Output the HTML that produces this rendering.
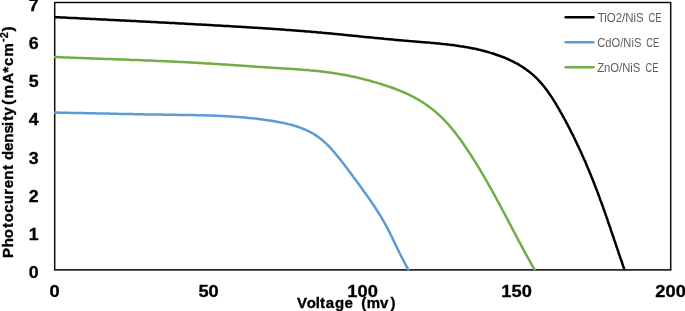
<!DOCTYPE html>
<html><head><meta charset="utf-8"><title>Chart</title>
<style>html,body{margin:0;padding:0;background:#fff;overflow:hidden}svg{display:block}</style>
</head><body>
<svg width="685" height="311" viewBox="0 0 685 311">
<rect x="0" y="0" width="685" height="311" fill="#ffffff"/>
<path d="M54.7,269.9 L54.7,2.4 L670.7,2.4 L670.7,269.9" fill="none" stroke="#0d0d0d" stroke-width="1.5" stroke-linejoin="round"/>
<path d="M53.95,269.9 L671.45,269.9" fill="none" stroke="#262626" stroke-width="1.8"/>
<defs><clipPath id="plotclip"><rect x="54.0" y="2.4" width="616.7" height="268.1"/></clipPath></defs>
<g clip-path="url(#plotclip)">
<path d="M54.7,112.6 L56.2,112.6 L57.7,112.6 L59.2,112.7 L60.7,112.7 L62.2,112.7 L63.7,112.7 L65.2,112.8 L66.7,112.8 L68.2,112.8 L69.7,112.8 L71.2,112.9 L72.7,112.9 L74.2,112.9 L75.7,112.9 L77.2,113.0 L78.7,113.0 L80.2,113.0 L81.7,113.1 L83.2,113.1 L84.7,113.1 L86.2,113.2 L87.7,113.2 L89.2,113.2 L90.7,113.2 L92.2,113.3 L93.7,113.3 L95.2,113.3 L96.7,113.4 L98.2,113.4 L99.7,113.4 L101.2,113.5 L102.7,113.5 L104.2,113.5 L105.7,113.6 L107.2,113.6 L108.7,113.6 L110.2,113.7 L111.7,113.7 L113.2,113.7 L114.7,113.8 L116.2,113.8 L117.7,113.8 L119.2,113.9 L120.7,113.9 L122.2,113.9 L123.7,114.0 L125.2,114.0 L126.7,114.0 L128.2,114.0 L129.7,114.1 L131.2,114.1 L132.7,114.1 L134.2,114.2 L135.7,114.2 L137.2,114.2 L138.7,114.3 L140.2,114.3 L141.7,114.3 L143.2,114.3 L144.7,114.4 L146.1,114.4 L147.6,114.4 L149.1,114.5 L150.6,114.5 L152.1,114.5 L153.6,114.5 L155.1,114.6 L156.6,114.6 L158.1,114.6 L159.6,114.6 L161.1,114.6 L162.6,114.7 L164.1,114.7 L165.6,114.7 L167.1,114.7 L168.6,114.8 L170.1,114.8 L171.6,114.8 L173.1,114.8 L174.7,114.8 L176.2,114.8 L177.7,114.9 L179.2,114.9 L180.7,114.9 L182.2,114.9 L183.7,114.9 L185.2,115.0 L186.7,115.0 L188.2,115.0 L189.7,115.0 L191.2,115.1 L192.7,115.1 L194.2,115.1 L195.7,115.2 L197.2,115.2 L198.7,115.2 L200.2,115.3 L201.7,115.3 L203.2,115.3 L204.7,115.4 L206.2,115.4 L207.7,115.5 L209.2,115.5 L210.7,115.6 L212.2,115.6 L213.7,115.7 L215.2,115.7 L216.7,115.8 L218.2,115.8 L219.7,115.9 L221.2,116.0 L222.7,116.0 L224.2,116.1 L225.7,116.2 L227.2,116.3 L228.7,116.4 L230.2,116.5 L231.7,116.6 L233.2,116.7 L234.7,116.8 L236.2,116.9 L237.7,117.0 L239.2,117.1 L240.7,117.2 L242.2,117.3 L243.7,117.5 L245.2,117.6 L246.6,117.7 L248.1,117.9 L249.6,118.0 L251.1,118.2 L252.6,118.3 L254.1,118.5 L255.6,118.6 L257.1,118.8 L258.6,119.0 L260.1,119.2 L261.6,119.4 L263.1,119.6 L264.6,119.8 L266.0,120.0 L267.5,120.2 L269.0,120.4 L270.5,120.6 L272.0,120.9 L273.5,121.1 L275.0,121.4 L276.4,121.6 L277.9,121.9 L279.4,122.2 L280.9,122.4 L282.3,122.7 L283.8,123.0 L285.3,123.4 L286.7,123.7 L288.2,124.1 L289.6,124.4 L291.1,124.8 L292.5,125.2 L293.9,125.6 L295.3,126.0 L296.8,126.5 L298.2,127.0 L299.5,127.4 L300.9,127.9 L302.3,128.5 L303.7,129.0 L305.0,129.6 L306.4,130.2 L307.7,130.8 L309.0,131.5 L310.3,132.1 L311.6,132.8 L312.9,133.5 L314.1,134.3 L315.4,135.1 L316.6,135.9 L317.8,136.7 L319.0,137.6 L320.2,138.5 L321.4,139.4 L322.6,140.3 L323.7,141.3 L324.8,142.3 L325.9,143.4 L327.0,144.4 L328.1,145.5 L329.2,146.6 L330.2,147.7 L331.3,148.8 L332.3,150.0 L333.3,151.1 L334.3,152.3 L335.3,153.5 L336.3,154.7 L337.3,155.9 L338.2,157.1 L339.2,158.2 L340.2,159.4 L341.1,160.6 L342.0,161.8 L343.0,163.0 L343.9,164.2 L344.8,165.4 L345.7,166.6 L346.6,167.8 L347.5,169.0 L348.4,170.2 L349.3,171.4 L350.2,172.6 L351.1,173.8 L352.0,175.0 L352.9,176.2 L353.7,177.4 L354.6,178.6 L355.5,179.8 L356.4,181.0 L357.3,182.2 L358.2,183.4 L359.0,184.6 L359.9,185.8 L360.8,187.0 L361.7,188.2 L362.5,189.4 L363.4,190.7 L364.3,191.9 L365.2,193.1 L366.0,194.3 L366.9,195.5 L367.8,196.7 L368.6,197.9 L369.5,199.1 L370.3,200.4 L371.2,201.6 L372.0,202.8 L372.8,204.1 L373.7,205.3 L374.5,206.5 L375.3,207.8 L376.1,209.0 L376.9,210.3 L377.7,211.5 L378.5,212.8 L379.3,214.1 L380.1,215.3 L380.9,216.6 L381.7,217.9 L382.4,219.2 L383.2,220.5 L383.9,221.8 L384.7,223.1 L385.4,224.4 L386.1,225.7 L386.8,227.1 L387.5,228.4 L388.2,229.7 L388.9,231.1 L389.6,232.4 L390.3,233.8 L390.9,235.1 L391.6,236.5 L392.3,237.8 L392.9,239.2 L393.6,240.6 L394.3,241.9 L394.9,243.3 L395.6,244.7 L396.2,246.0 L396.9,247.4 L397.5,248.7 L398.2,250.1 L398.9,251.5 L399.5,252.8 L400.2,254.2 L400.8,255.5 L401.5,256.9 L402.2,258.2 L402.9,259.5 L403.6,260.9 L404.3,262.2 L405.0,263.5 L405.7,264.8 L406.4,266.1 L407.1,267.4 L407.8,268.7 L408.5,269.8" fill="none" stroke="#5b9bd5" stroke-width="2.5" stroke-linejoin="round" stroke-linecap="round"/>
<path d="M54.7,57.0 L56.2,57.1 L57.7,57.1 L59.2,57.2 L60.7,57.2 L62.2,57.3 L63.7,57.4 L65.2,57.4 L66.7,57.5 L68.2,57.5 L69.7,57.6 L71.2,57.7 L72.7,57.7 L74.2,57.8 L75.7,57.8 L77.2,57.9 L78.7,57.9 L80.2,58.0 L81.7,58.1 L83.2,58.1 L84.7,58.2 L86.2,58.2 L87.6,58.3 L89.1,58.3 L90.6,58.4 L92.1,58.4 L93.6,58.5 L95.1,58.6 L96.6,58.6 L98.1,58.7 L99.6,58.7 L101.1,58.8 L102.6,58.8 L104.1,58.9 L105.6,58.9 L107.1,59.0 L108.6,59.0 L110.1,59.1 L111.6,59.1 L113.1,59.2 L114.6,59.3 L116.1,59.3 L117.6,59.4 L119.1,59.4 L120.6,59.5 L122.1,59.5 L123.6,59.6 L125.1,59.6 L126.6,59.7 L128.1,59.7 L129.6,59.8 L131.1,59.9 L132.6,59.9 L134.1,60.0 L135.6,60.0 L137.1,60.1 L138.6,60.1 L140.1,60.2 L141.6,60.3 L143.1,60.3 L144.6,60.4 L146.1,60.4 L147.6,60.5 L149.1,60.6 L150.6,60.6 L152.1,60.7 L153.6,60.7 L155.1,60.8 L156.6,60.9 L158.1,60.9 L159.6,61.0 L161.1,61.1 L162.6,61.1 L164.1,61.2 L165.6,61.3 L167.1,61.3 L168.6,61.4 L170.1,61.5 L171.6,61.5 L173.1,61.6 L174.6,61.7 L176.1,61.7 L177.6,61.8 L179.1,61.9 L180.6,62.0 L182.1,62.0 L183.6,62.1 L185.1,62.2 L186.6,62.3 L188.1,62.3 L189.6,62.4 L191.1,62.5 L192.6,62.6 L194.1,62.7 L195.6,62.8 L197.1,62.8 L198.6,62.9 L200.1,63.0 L201.6,63.1 L203.1,63.2 L204.6,63.3 L206.1,63.4 L207.6,63.5 L209.1,63.5 L210.6,63.6 L212.1,63.7 L213.6,63.8 L215.1,63.9 L216.6,64.0 L218.1,64.1 L219.6,64.2 L221.1,64.3 L222.6,64.4 L224.1,64.5 L225.6,64.6 L227.1,64.7 L228.6,64.8 L230.1,64.9 L231.6,65.0 L233.1,65.1 L234.6,65.2 L236.0,65.3 L237.5,65.4 L239.0,65.5 L240.5,65.6 L242.0,65.7 L243.5,65.8 L245.0,65.9 L246.5,66.0 L248.0,66.1 L249.5,66.2 L251.0,66.3 L252.5,66.4 L254.0,66.5 L255.5,66.7 L257.0,66.8 L258.5,66.9 L260.0,67.0 L261.5,67.0 L263.0,67.1 L264.5,67.2 L266.0,67.3 L267.4,67.4 L268.9,67.5 L270.4,67.6 L271.9,67.7 L273.4,67.8 L274.9,67.9 L276.4,68.0 L277.9,68.1 L279.4,68.2 L280.9,68.3 L282.4,68.4 L283.9,68.5 L285.4,68.6 L286.9,68.7 L288.3,68.7 L289.8,68.8 L291.3,68.9 L292.8,69.0 L294.3,69.1 L295.8,69.2 L297.3,69.3 L298.8,69.4 L300.3,69.6 L301.8,69.7 L303.3,69.8 L304.7,69.9 L306.2,70.0 L307.7,70.1 L309.2,70.3 L310.7,70.4 L312.2,70.5 L313.7,70.7 L315.2,70.8 L316.7,71.0 L318.1,71.1 L319.6,71.3 L321.1,71.5 L322.6,71.6 L324.1,71.8 L325.6,72.0 L327.1,72.2 L328.6,72.4 L330.0,72.6 L331.5,72.8 L333.0,73.0 L334.5,73.2 L336.0,73.4 L337.5,73.7 L339.0,73.9 L340.4,74.2 L341.9,74.4 L343.4,74.7 L344.9,75.0 L346.4,75.2 L347.9,75.5 L349.3,75.8 L350.8,76.2 L352.3,76.5 L353.8,76.8 L355.3,77.1 L356.8,77.5 L358.2,77.8 L359.7,78.2 L361.2,78.5 L362.7,78.9 L364.1,79.3 L365.6,79.7 L367.1,80.0 L368.5,80.4 L370.0,80.8 L371.4,81.2 L372.9,81.7 L374.3,82.1 L375.8,82.5 L377.2,82.9 L378.7,83.4 L380.1,83.8 L381.6,84.2 L383.0,84.7 L384.4,85.1 L385.8,85.6 L387.3,86.1 L388.7,86.6 L390.1,87.0 L391.5,87.5 L392.9,88.0 L394.3,88.5 L395.7,89.0 L397.1,89.6 L398.5,90.1 L399.8,90.7 L401.2,91.2 L402.6,91.8 L403.9,92.4 L405.3,93.0 L406.6,93.6 L408.0,94.2 L409.3,94.9 L410.6,95.5 L412.0,96.2 L413.3,96.9 L414.6,97.6 L415.9,98.3 L417.2,99.0 L418.5,99.8 L419.7,100.5 L421.0,101.3 L422.3,102.1 L423.5,102.9 L424.8,103.7 L426.0,104.6 L427.2,105.4 L428.4,106.3 L429.6,107.2 L430.8,108.1 L432.0,109.0 L433.2,109.9 L434.4,110.9 L435.5,111.9 L436.6,112.8 L437.8,113.8 L438.9,114.8 L440.0,115.8 L441.1,116.9 L442.2,117.9 L443.2,119.0 L444.3,120.0 L445.3,121.1 L446.3,122.2 L447.4,123.3 L448.4,124.4 L449.3,125.6 L450.3,126.7 L451.3,127.9 L452.3,129.0 L453.2,130.2 L454.2,131.4 L455.1,132.6 L456.0,133.7 L456.9,135.0 L457.8,136.2 L458.7,137.4 L459.6,138.6 L460.5,139.8 L461.4,141.0 L462.3,142.3 L463.1,143.5 L464.0,144.8 L464.8,146.0 L465.7,147.2 L466.5,148.5 L467.4,149.7 L468.2,151.0 L469.0,152.2 L469.8,153.5 L470.7,154.8 L471.5,156.0 L472.3,157.3 L473.1,158.6 L473.9,159.8 L474.7,161.1 L475.5,162.4 L476.3,163.6 L477.1,164.9 L477.9,166.2 L478.6,167.5 L479.4,168.8 L480.2,170.0 L480.9,171.3 L481.7,172.6 L482.5,173.9 L483.2,175.2 L484.0,176.5 L484.7,177.8 L485.5,179.1 L486.2,180.4 L487.0,181.7 L487.7,183.0 L488.5,184.3 L489.2,185.6 L489.9,186.9 L490.7,188.2 L491.4,189.5 L492.1,190.8 L492.8,192.1 L493.6,193.4 L494.3,194.7 L495.0,196.0 L495.7,197.3 L496.4,198.7 L497.1,200.0 L497.8,201.3 L498.6,202.6 L499.3,203.9 L500.0,205.2 L500.7,206.6 L501.4,207.9 L502.1,209.2 L502.8,210.5 L503.5,211.9 L504.2,213.2 L504.9,214.5 L505.6,215.8 L506.3,217.2 L507.0,218.5 L507.7,219.8 L508.4,221.1 L509.1,222.5 L509.8,223.8 L510.5,225.1 L511.2,226.5 L511.9,227.8 L512.6,229.1 L513.3,230.4 L514.0,231.8 L514.7,233.1 L515.4,234.4 L516.1,235.7 L516.8,237.1 L517.5,238.4 L518.2,239.7 L518.9,241.1 L519.6,242.4 L520.3,243.7 L521.0,245.0 L521.7,246.4 L522.4,247.7 L523.1,249.0 L523.9,250.3 L524.6,251.6 L525.3,253.0 L526.0,254.3 L526.7,255.6 L527.4,256.9 L528.2,258.2 L528.9,259.5 L529.6,260.8 L530.4,262.2 L531.1,263.5 L531.8,264.8 L532.6,266.1 L533.3,267.4 L534.1,268.7 L534.7,269.8" fill="none" stroke="#70ad47" stroke-width="2.5" stroke-linejoin="round" stroke-linecap="round"/>
<path d="M54.7,17.1 L56.2,17.2 L57.7,17.3 L59.2,17.3 L60.7,17.4 L62.2,17.5 L63.7,17.6 L65.2,17.6 L66.7,17.7 L68.2,17.8 L69.7,17.9 L71.2,17.9 L72.7,18.0 L74.2,18.1 L75.7,18.1 L77.2,18.2 L78.7,18.3 L80.2,18.4 L81.7,18.4 L83.2,18.5 L84.7,18.6 L86.2,18.7 L87.7,18.7 L89.2,18.8 L90.7,18.9 L92.2,19.0 L93.7,19.0 L95.2,19.1 L96.7,19.2 L98.2,19.3 L99.7,19.3 L101.2,19.4 L102.7,19.5 L104.2,19.6 L105.7,19.6 L107.2,19.7 L108.7,19.8 L110.2,19.9 L111.7,19.9 L113.2,20.0 L114.7,20.1 L116.2,20.2 L117.7,20.2 L119.2,20.3 L120.7,20.4 L122.2,20.5 L123.7,20.5 L125.2,20.6 L126.7,20.7 L128.2,20.8 L129.7,20.8 L131.2,20.9 L132.7,21.0 L134.2,21.1 L135.7,21.1 L137.2,21.2 L138.7,21.3 L140.2,21.4 L141.7,21.4 L143.2,21.5 L144.7,21.6 L146.2,21.7 L147.7,21.7 L149.2,21.8 L150.7,21.9 L152.2,22.0 L153.7,22.1 L155.1,22.1 L156.6,22.2 L158.1,22.3 L159.6,22.4 L161.1,22.4 L162.6,22.5 L164.1,22.6 L165.6,22.7 L167.1,22.8 L168.6,22.8 L170.1,22.9 L171.6,23.0 L173.1,23.1 L174.6,23.1 L176.1,23.2 L177.6,23.3 L179.1,23.4 L180.6,23.5 L182.1,23.5 L183.6,23.6 L185.1,23.7 L186.6,23.8 L188.1,23.9 L189.6,23.9 L191.1,24.0 L192.5,24.1 L194.0,24.2 L195.5,24.3 L197.0,24.4 L198.5,24.4 L200.0,24.5 L201.5,24.6 L203.0,24.7 L204.5,24.8 L206.0,24.8 L207.5,24.9 L209.0,25.0 L210.5,25.1 L212.0,25.2 L213.5,25.3 L215.0,25.4 L216.5,25.4 L218.0,25.5 L219.5,25.6 L221.0,25.7 L222.4,25.8 L223.9,25.9 L225.4,26.0 L226.9,26.0 L228.4,26.1 L229.9,26.2 L231.4,26.3 L232.9,26.4 L234.4,26.5 L235.9,26.6 L237.4,26.7 L238.9,26.7 L240.4,26.8 L241.9,26.9 L243.4,27.0 L244.9,27.1 L246.4,27.2 L247.9,27.3 L249.4,27.4 L250.9,27.5 L252.3,27.6 L253.8,27.7 L255.3,27.7 L256.8,27.8 L258.3,27.9 L259.8,28.0 L261.3,28.1 L262.8,28.2 L264.3,28.3 L265.8,28.4 L267.3,28.5 L268.8,28.6 L270.3,28.7 L271.8,28.8 L273.3,28.9 L274.8,29.0 L276.3,29.1 L277.8,29.2 L279.3,29.3 L280.7,29.4 L282.2,29.5 L283.7,29.6 L285.2,29.8 L286.7,29.9 L288.2,30.0 L289.7,30.1 L291.2,30.2 L292.7,30.3 L294.2,30.4 L295.7,30.5 L297.2,30.7 L298.7,30.8 L300.2,30.9 L301.7,31.0 L303.2,31.1 L304.7,31.2 L306.2,31.4 L307.7,31.5 L309.2,31.6 L310.7,31.7 L312.1,31.9 L313.6,32.0 L315.1,32.1 L316.6,32.2 L318.1,32.4 L319.6,32.5 L321.1,32.6 L322.6,32.8 L324.1,32.9 L325.6,33.0 L327.1,33.2 L328.6,33.3 L330.1,33.5 L331.6,33.6 L333.1,33.7 L334.6,33.9 L336.1,34.0 L337.6,34.2 L339.1,34.3 L340.6,34.5 L342.1,34.6 L343.6,34.8 L345.1,34.9 L346.6,35.1 L348.1,35.2 L349.6,35.4 L351.1,35.5 L352.5,35.7 L354.0,35.8 L355.5,36.0 L357.0,36.1 L358.5,36.3 L360.0,36.4 L361.5,36.6 L363.0,36.7 L364.5,36.9 L366.0,37.0 L367.5,37.2 L369.0,37.3 L370.5,37.5 L372.0,37.6 L373.5,37.7 L375.0,37.9 L376.5,38.0 L378.0,38.2 L379.5,38.3 L381.0,38.5 L382.5,38.6 L384.0,38.8 L385.5,38.9 L387.0,39.1 L388.5,39.2 L390.0,39.3 L391.5,39.5 L393.0,39.6 L394.5,39.8 L396.0,39.9 L397.5,40.0 L399.0,40.2 L400.5,40.3 L402.0,40.4 L403.5,40.6 L405.0,40.7 L406.5,40.8 L408.0,40.9 L409.5,41.1 L411.0,41.2 L412.5,41.3 L414.0,41.4 L415.5,41.5 L417.0,41.7 L418.5,41.8 L420.0,41.9 L421.5,42.0 L423.0,42.2 L424.5,42.3 L426.0,42.4 L427.5,42.5 L429.0,42.6 L430.5,42.8 L432.0,42.9 L433.5,43.0 L435.0,43.2 L436.5,43.3 L437.9,43.5 L439.4,43.6 L440.9,43.8 L442.4,43.9 L443.9,44.1 L445.4,44.2 L446.9,44.4 L448.4,44.6 L449.8,44.7 L451.3,44.9 L452.8,45.1 L454.3,45.3 L455.8,45.5 L457.3,45.7 L458.7,45.9 L460.2,46.2 L461.7,46.4 L463.1,46.6 L464.6,46.9 L466.1,47.1 L467.5,47.4 L469.0,47.6 L470.5,47.9 L471.9,48.2 L473.4,48.5 L474.8,48.8 L476.3,49.1 L477.8,49.4 L479.2,49.8 L480.7,50.1 L482.1,50.5 L483.5,50.8 L485.0,51.2 L486.4,51.6 L487.9,52.0 L489.3,52.4 L490.7,52.9 L492.1,53.3 L493.6,53.7 L495.0,54.2 L496.4,54.7 L497.8,55.2 L499.2,55.7 L500.7,56.2 L502.1,56.7 L503.5,57.3 L504.9,57.8 L506.2,58.4 L507.6,59.0 L509.0,59.6 L510.4,60.3 L511.7,60.9 L513.1,61.6 L514.4,62.3 L515.7,63.0 L517.1,63.7 L518.4,64.4 L519.7,65.2 L520.9,66.0 L522.2,66.8 L523.5,67.6 L524.7,68.4 L525.9,69.3 L527.1,70.2 L528.3,71.1 L529.5,72.0 L530.7,72.9 L531.8,73.9 L533.0,74.9 L534.1,75.8 L535.2,76.9 L536.2,77.9 L537.3,78.9 L538.3,80.0 L539.3,81.1 L540.3,82.2 L541.3,83.3 L542.3,84.4 L543.2,85.5 L544.2,86.7 L545.1,87.9 L546.0,89.1 L546.9,90.2 L547.8,91.4 L548.6,92.7 L549.5,93.9 L550.3,95.1 L551.2,96.4 L552.0,97.6 L552.8,98.9 L553.6,100.2 L554.4,101.4 L555.2,102.7 L556.0,104.0 L556.7,105.3 L557.5,106.6 L558.2,107.9 L559.0,109.2 L559.7,110.5 L560.5,111.8 L561.2,113.1 L562.0,114.4 L562.7,115.8 L563.4,117.1 L564.1,118.4 L564.9,119.7 L565.6,121.0 L566.3,122.4 L567.0,123.7 L567.7,125.0 L568.4,126.4 L569.1,127.7 L569.8,129.0 L570.5,130.4 L571.1,131.7 L571.8,133.1 L572.5,134.4 L573.2,135.7 L573.8,137.1 L574.5,138.4 L575.1,139.8 L575.8,141.1 L576.4,142.5 L577.1,143.9 L577.7,145.2 L578.4,146.6 L579.0,147.9 L579.6,149.3 L580.3,150.7 L580.9,152.0 L581.5,153.4 L582.1,154.8 L582.7,156.1 L583.3,157.5 L584.0,158.9 L584.6,160.3 L585.2,161.6 L585.8,163.0 L586.3,164.4 L586.9,165.8 L587.5,167.2 L588.1,168.5 L588.7,169.9 L589.3,171.3 L589.8,172.7 L590.4,174.1 L591.0,175.5 L591.5,176.9 L592.1,178.3 L592.6,179.6 L593.2,181.0 L593.8,182.4 L594.3,183.8 L594.8,185.2 L595.4,186.6 L595.9,188.0 L596.5,189.4 L597.0,190.8 L597.5,192.2 L598.1,193.6 L598.6,195.0 L599.1,196.4 L599.6,197.8 L600.1,199.3 L600.6,200.7 L601.2,202.1 L601.7,203.5 L602.2,204.9 L602.7,206.3 L603.2,207.7 L603.7,209.1 L604.2,210.5 L604.7,211.9 L605.2,213.4 L605.7,214.8 L606.2,216.2 L606.7,217.6 L607.2,219.0 L607.6,220.4 L608.1,221.8 L608.6,223.3 L609.1,224.7 L609.6,226.1 L610.1,227.5 L610.6,228.9 L611.0,230.3 L611.5,231.8 L612.0,233.2 L612.5,234.6 L613.0,236.0 L613.5,237.4 L613.9,238.9 L614.4,240.3 L614.9,241.7 L615.4,243.1 L615.9,244.5 L616.3,246.0 L616.8,247.4 L617.3,248.8 L617.8,250.2 L618.3,251.6 L618.7,253.1 L619.2,254.5 L619.7,255.9 L620.2,257.3 L620.7,258.8 L621.2,260.2 L621.7,261.6 L622.1,263.0 L622.6,264.4 L623.1,265.8 L623.6,267.3 L624.1,268.7 L624.5,269.8" fill="none" stroke="#000000" stroke-width="2.5" stroke-linejoin="round" stroke-linecap="round"/>
</g>
<text x="33.6" y="278.1" text-anchor="middle" textLength="9.9" lengthAdjust="spacingAndGlyphs" style="font-family:'Liberation Sans',Arial,sans-serif;font-weight:bold;font-size:15.6px;fill:#000;stroke:#000;stroke-width:0.3px">0</text>
<text x="33.6" y="239.9" text-anchor="middle" textLength="9.9" lengthAdjust="spacingAndGlyphs" style="font-family:'Liberation Sans',Arial,sans-serif;font-weight:bold;font-size:15.6px;fill:#000;stroke:#000;stroke-width:0.3px">1</text>
<text x="33.6" y="201.7" text-anchor="middle" textLength="9.9" lengthAdjust="spacingAndGlyphs" style="font-family:'Liberation Sans',Arial,sans-serif;font-weight:bold;font-size:15.6px;fill:#000;stroke:#000;stroke-width:0.3px">2</text>
<text x="33.6" y="163.5" text-anchor="middle" textLength="9.9" lengthAdjust="spacingAndGlyphs" style="font-family:'Liberation Sans',Arial,sans-serif;font-weight:bold;font-size:15.6px;fill:#000;stroke:#000;stroke-width:0.3px">3</text>
<text x="33.6" y="125.2" text-anchor="middle" textLength="9.9" lengthAdjust="spacingAndGlyphs" style="font-family:'Liberation Sans',Arial,sans-serif;font-weight:bold;font-size:15.6px;fill:#000;stroke:#000;stroke-width:0.3px">4</text>
<text x="33.6" y="87.0" text-anchor="middle" textLength="9.9" lengthAdjust="spacingAndGlyphs" style="font-family:'Liberation Sans',Arial,sans-serif;font-weight:bold;font-size:15.6px;fill:#000;stroke:#000;stroke-width:0.3px">5</text>
<text x="33.6" y="48.8" text-anchor="middle" textLength="9.9" lengthAdjust="spacingAndGlyphs" style="font-family:'Liberation Sans',Arial,sans-serif;font-weight:bold;font-size:15.6px;fill:#000;stroke:#000;stroke-width:0.3px">6</text>
<text x="33.6" y="10.6" text-anchor="middle" textLength="9.9" lengthAdjust="spacingAndGlyphs" style="font-family:'Liberation Sans',Arial,sans-serif;font-weight:bold;font-size:15.6px;fill:#000;stroke:#000;stroke-width:0.3px">7</text>
<text x="54.6" y="296.6" text-anchor="middle" textLength="10.2" lengthAdjust="spacingAndGlyphs" style="font-family:'Liberation Sans',Arial,sans-serif;font-weight:bold;font-size:15.6px;fill:#000;stroke:#000;stroke-width:0.3px">0</text>
<text x="208.6" y="296.6" text-anchor="middle" textLength="20.3" lengthAdjust="spacingAndGlyphs" style="font-family:'Liberation Sans',Arial,sans-serif;font-weight:bold;font-size:15.6px;fill:#000;stroke:#000;stroke-width:0.3px">50</text>
<text x="362.6" y="296.6" text-anchor="middle" textLength="30.5" lengthAdjust="spacingAndGlyphs" style="font-family:'Liberation Sans',Arial,sans-serif;font-weight:bold;font-size:15.6px;fill:#000;stroke:#000;stroke-width:0.3px">100</text>
<text x="516.6" y="296.6" text-anchor="middle" textLength="30.5" lengthAdjust="spacingAndGlyphs" style="font-family:'Liberation Sans',Arial,sans-serif;font-weight:bold;font-size:15.6px;fill:#000;stroke:#000;stroke-width:0.3px">150</text>
<text x="670.6" y="296.6" text-anchor="middle" textLength="30.5" lengthAdjust="spacingAndGlyphs" style="font-family:'Liberation Sans',Arial,sans-serif;font-weight:bold;font-size:15.6px;fill:#000;stroke:#000;stroke-width:0.3px">200</text>
<g transform="scale(1.0,1)">
<text y="307.6" style="font-family:'Liberation Sans',Arial,sans-serif;font-weight:bold;font-size:15px;fill:#000;stroke:#000;stroke-width:0.35px"><tspan x="296.95 306.82 315.74 319.96 325.71 334.98 344.50">Voltage</tspan> <tspan x="361.32 366.81 380.01 390.42">(mv)</tspan></text>
</g>
<g transform="translate(13.3,260.0) rotate(-90) scale(1.0,1)">
<text y="0" style="font-family:'Liberation Sans',Arial,sans-serif;font-weight:bold;font-size:15px;fill:#000;stroke:#000;stroke-width:0.35px"><tspan x="2.05 12.73 21.67 31.96 37.77 47.15 55.75 65.19 71.70 80.17 90.11">Photocurent</tspan> <tspan x="99.98 109.10 117.32 126.53 134.14 138.96 144.46">density</tspan> <tspan x="155.38 161.66 176.32 187.26 193.90 203.51">(mA*cm</tspan><tspan y="-7.0 -5.2" x="218.09 221.70" style="font-family:'Liberation Sans',Arial,sans-serif;font-weight:bold;font-size:11px;fill:#000;stroke:#000;stroke-width:0.25px">-2</tspan><tspan y="0" x="228.57">)</tspan></text>
</g>
<line x1="565.6" y1="17.3" x2="593.5" y2="17.3" stroke="#000000" stroke-width="2.4" stroke-linecap="round"/>
<text y="21.6" style="font-family:'Liberation Sans',Arial,sans-serif;font-size:12px;fill:#5e5e5e"><tspan x="597.66" textLength="45.92" lengthAdjust="spacingAndGlyphs">TiO2/NiS</tspan> <tspan x="648.51" textLength="13.12" lengthAdjust="spacingAndGlyphs">CE</tspan></text>
<line x1="565.6" y1="42.3" x2="593.5" y2="42.3" stroke="#5b9bd5" stroke-width="2.4" stroke-linecap="round"/>
<text y="46.6" style="font-family:'Liberation Sans',Arial,sans-serif;font-size:12px;fill:#5e5e5e"><tspan x="597.32" textLength="44.03" lengthAdjust="spacingAndGlyphs">CdO/NiS</tspan> <tspan x="646.21" textLength="13.12" lengthAdjust="spacingAndGlyphs">CE</tspan></text>
<line x1="565.6" y1="67.3" x2="593.5" y2="67.3" stroke="#70ad47" stroke-width="2.4" stroke-linecap="round"/>
<text y="71.6" style="font-family:'Liberation Sans',Arial,sans-serif;font-size:12px;fill:#5e5e5e"><tspan x="597.15" textLength="43.24" lengthAdjust="spacingAndGlyphs">ZnO/NiS</tspan> <tspan x="645.52" textLength="12.91" lengthAdjust="spacingAndGlyphs">CE</tspan></text>
</svg>
</body></html>
